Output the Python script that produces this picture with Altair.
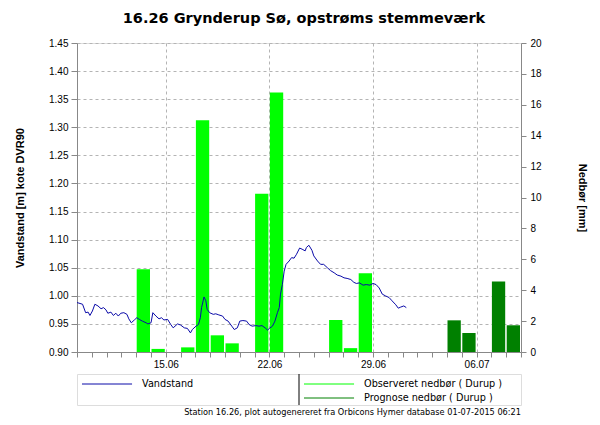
import altair as alt
import pandas as pd

# ---------------- data ----------------
start_date = "2015-06-09"
end_date = "2015-07-09"

# water level: hours after 09.06.2015 00:00 and level [m]
level_hours = [0, 9, 14, 18, 21, 25, 29, 34, 39, 43, 47, 50, 55, 59, 63, 67, 71, 76, 81, 84,
               88, 93, 97, 101, 106, 112, 115, 120, 123, 128, 133, 137, 141, 147, 152, 156,
               163, 168, 174, 179, 184, 187, 193, 197, 200, 202, 206, 209, 211, 215, 221,
               225, 230, 236, 240, 245, 251, 255, 260, 264, 269, 275, 279, 284, 290, 295,
               300, 305, 309, 312, 317, 321, 325, 328, 330, 333, 336, 339, 344, 348, 352,
               356, 361, 365, 370, 372, 376, 381, 384, 390, 395, 400, 406, 411, 417, 422,
               428, 433, 438, 444, 449, 453, 458, 464, 469, 475, 480, 485, 490, 495, 500,
               506, 511, 517, 521, 525, 530, 534]
level_m = [0.988, 0.985, 0.970, 0.971, 0.965, 0.973, 0.985, 0.982, 0.977, 0.979, 0.975, 0.969,
           0.971, 0.965, 0.969, 0.964, 0.969, 0.970, 0.967, 0.959, 0.952, 0.957, 0.961, 0.958,
           0.955, 0.952, 0.950, 0.952, 0.970, 0.964, 0.959, 0.961, 0.957, 0.958, 0.949, 0.943,
           0.950, 0.948, 0.943, 0.942, 0.934, 0.940, 0.946, 0.949, 0.961, 0.979, 0.998, 0.991,
           0.976, 0.970, 0.967, 0.968, 0.966, 0.964, 0.958, 0.955, 0.946, 0.940, 0.943, 0.955,
           0.956, 0.955, 0.949, 0.946, 0.947, 0.946, 0.947, 0.943, 0.939, 0.942, 0.946, 0.955,
           0.970, 0.979, 1.003, 1.020, 1.044, 1.056, 1.062, 1.068, 1.067, 1.074, 1.085, 1.083,
           1.080, 1.086, 1.090, 1.081, 1.071, 1.062, 1.056, 1.056, 1.050, 1.045, 1.041, 1.037,
           1.035, 1.032, 1.031, 1.029, 1.024, 1.022, 1.023, 1.019, 1.020, 1.019, 1.022, 1.020,
           1.014, 1.003, 1.000, 0.997, 0.991, 0.984, 0.978, 0.980, 0.982, 0.979]

# daily precipitation [mm]
obs_dates = ["2015-06-13", "2015-06-14", "2015-06-16", "2015-06-17", "2015-06-18", "2015-06-19",
             "2015-06-21", "2015-06-22", "2015-06-26", "2015-06-27", "2015-06-28"]
obs_mm = [5.35, 0.2, 0.3, 15.0, 1.08, 0.56, 10.25, 16.8, 2.07, 0.25, 5.09]
prog_dates = ["2015-07-04", "2015-07-05", "2015-07-07", "2015-07-08"]
prog_mm = [2.05, 1.23, 4.57, 1.73]

series_names = ["Vandstand", "Observeret nedbør ( Durup )", "Prognose nedbør ( Durup )"]
series_colors = ["#0A0AA8", "#00FF00", "#008000"]

level_ticks = [0.90, 0.95, 1.00, 1.05, 1.10, 1.15, 1.20, 1.25, 1.30, 1.35, 1.40, 1.45]
rain_ticks = [0, 2, 4, 6, 8, 10, 12, 14, 16, 18, 20]

title_text = "16.26 Grynderup Sø, opstrøms stemmeværk"
footer_text = "Station 16.26, plot autogenereret fra Orbicons Hymer database 01-07-2015 06:21"

# ---------------- tables ----------------
t0 = pd.Timestamp(start_date)
level_df = pd.DataFrame({
    "t": [t0 + pd.Timedelta(hours=h) for h in level_hours],
    "v": level_m,
})
rain_df = pd.DataFrame({
    "d": pd.to_datetime(obs_dates + prog_dates),
    "mm": obs_mm + prog_mm,
    "s": [series_names[1]] * len(obs_dates) + [series_names[2]] * len(prog_dates),
})
rain_df["d2"] = rain_df["d"] + pd.Timedelta(days=1)
rain_df["base"] = 0.0

days = pd.date_range(start_date, end_date, freq="D")
day_values = [alt.DateTime(year=d.year, month=d.month, date=d.day) for d in days]
x_scale = alt.Scale(domain=[day_values[0], day_values[-1]])

monday = "day(datum.value) == 1"
x_axis = alt.Axis(
    values=day_values,
    title=None,
    labelExpr=f"{monday} ? timeFormat(datum.value, '%d.%m') : ''",
    grid=True,
    gridDash=[3, 3],
    gridColor="#b4b4b4",
    gridOpacity={"condition": {"test": monday, "value": 1}, "value": 0},
    tickSize=5,
    labelPadding=2,
    labelFlush=False,
    labelOverlap=False,
)

bars = alt.Chart(rain_df).mark_bar(xOffset=0.5, x2Offset=-1).encode(
    x=alt.X("d:T", scale=x_scale, axis=x_axis),
    x2="d2:T",
    y=alt.Y("mm:Q",
            scale=alt.Scale(domain=[0, 20], nice=False),
            axis=alt.Axis(orient="right", values=rain_ticks, grid=False,
                          title="Nedbør [mm]", titleAngle=90, titlePadding=35,
                          tickSize=5, labelPadding=4)),
    y2="base:Q",
    color=alt.Color("s:N", scale=alt.Scale(domain=series_names[1:], range=series_colors[1:]),
                    legend=None),
)

line = alt.Chart(level_df).mark_line(color=series_colors[0], strokeWidth=1).encode(
    x=alt.X("t:T", scale=x_scale, axis=x_axis),
    y=alt.Y("v:Q",
            scale=alt.Scale(domain=[0.90, 1.45], nice=False, zero=False),
            axis=alt.Axis(orient="left", values=level_ticks, format=".2f",
                          title="Vandstand [m] kote DVR90", titlePadding=23,
                          grid=True, gridDash=[3, 3], gridColor="#b4b4b4",
                          tickSize=6, labelPadding=3)),
)

main = alt.layer(bars, line).resolve_scale(y="independent").properties(width=444, height=309)

# ---------------- legend panel ----------------
leg_w, leg_h = 444, 31
leg_df = pd.DataFrame({
    "name": series_names,
    "color": series_colors,
    "col": [0, 1, 1],
    "row": [0, 0, 1],
})
lx = alt.Scale(domain=[0, 2], range=[0, leg_w], nice=False, zero=False)
ly = alt.Scale(domain=[-10 / 14, 21 / 14], range=[0, leg_h], nice=False, zero=False)

leg_base = alt.Chart(leg_df).transform_calculate(
    a="datum.col + 0.0225", b="datum.col + 0.248", c="datum.col + 0.293"
)
divider = leg_base.transform_filter("datum.row == 0 && datum.col == 1").mark_rule(
    color="black", strokeWidth=1
).encode(
    x=alt.X("col:Q", scale=lx, axis=None)
)
leg_lines = leg_base.mark_rule(strokeWidth=1).encode(
    x=alt.X("a:Q", scale=lx, axis=None),
    x2="b:Q",
    y=alt.Y("row:Q", scale=ly, axis=None),
    color=alt.Color("color:N", scale=None),
)
leg_text = leg_base.mark_text(align="left", baseline="middle", fontSize=9.7,
                              font="DejaVu Sans", color="black").encode(
    x=alt.X("c:Q", scale=lx, axis=None),
    y=alt.Y("row:Q", scale=ly, axis=None),
    text="name:N",
)
legend_panel = alt.layer(divider, leg_lines, leg_text).properties(
    width=leg_w, height=leg_h,
    title=alt.TitleParams(footer_text, orient="bottom", anchor="end", fontSize=8.2,
                          font="DejaVu Sans", fontWeight="normal", offset=3, color="black"),
)

chart = alt.vconcat(main, legend_panel, spacing=3).properties(
    title=alt.TitleParams(title_text, font="DejaVu Sans", fontSize=14.5, fontWeight="bold",
                          anchor="middle", frame="group", offset=11, dx=5, color="black"),
    padding={"left": 14, "top": 11, "right": 4, "bottom": 5},
).configure_view(
    stroke="black", strokeWidth=1
).configure_axis(
    domainColor="black", tickColor="black", labelColor="black",
    labelFont="DejaVu Sans", labelFontSize=11.5,
    titleFont="DejaVu Sans", titleFontSize=10, titleFontWeight="bold", titleColor="black",
).configure(background="white")

chart.save("out.html", embed_options={"renderer": "svg", "actions": False})
